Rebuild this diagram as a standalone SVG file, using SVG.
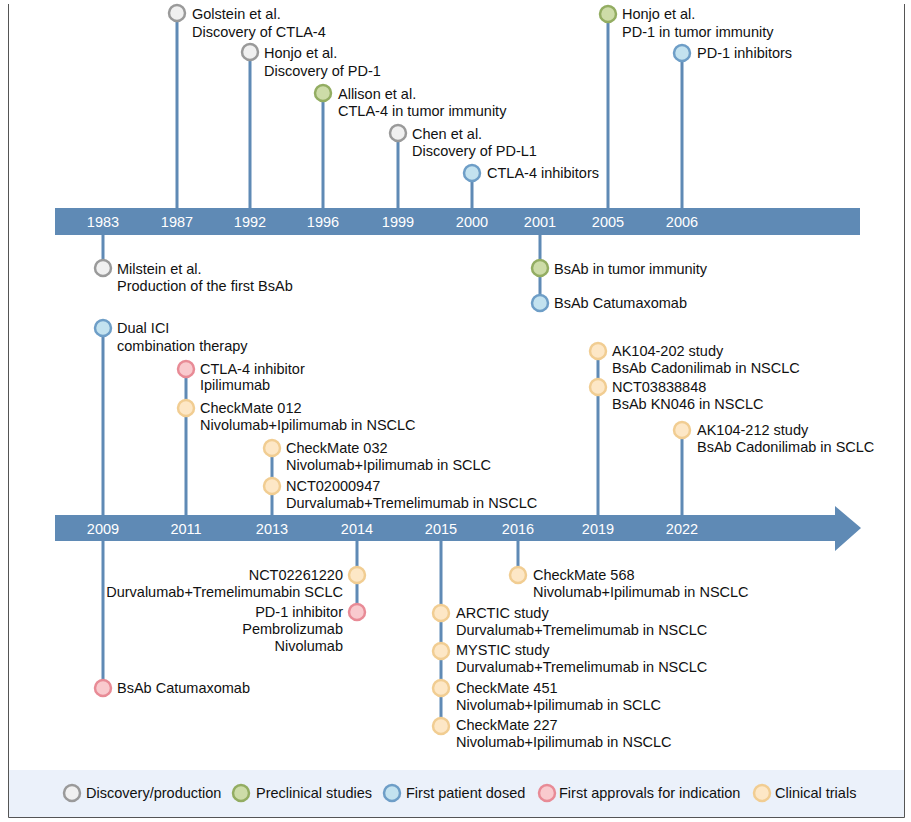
<svg xmlns="http://www.w3.org/2000/svg" width="911" height="822" viewBox="0 0 911 822">
<style>
text{font-family:"Liberation Sans",Arial,sans-serif;font-size:14.5px;fill:#111}
.yr{fill:#fff;text-anchor:middle}
.r{text-anchor:end}
.ln{stroke:#5f8ab5;stroke-width:3;fill:none}
circle{stroke-width:2.5}
.g{fill:#f0f0f0;stroke:#9a9a9a}
.gr{fill:#cddca8;stroke:#93ad62}
.b{fill:#c3e2ef;stroke:#6e9ec7}
.rd{fill:#f9cace;stroke:#e88b96}
.o{fill:#fde7c6;stroke:#f1cd92}
</style>
<rect x="0" y="0" width="911" height="822" fill="#fff"/>
<rect x="8" y="770" width="896" height="47" fill="#ebf1fa"/>
<path d="M8.5 4V817.5H904.5V4" fill="none" stroke="#555" stroke-width="1"/>
<g id="connectors">
<path class="ln" d="M177 13V208M250 52V208M323 93V208M398 133V208M472 173V208M608 14V208M682 53V208M103 235V268M540 235V303"/>
<path class="ln" d="M103 328V688M186 369V515M272 448V515M598 351V515M682 430V515M357 540V612M441 540V726M518 540V575"/>
</g>
<g id="timeline1"><rect x="55" y="208" width="805" height="27" fill="#5f8ab5"/>
<text class="yr" x="103" y="227">1983</text><text class="yr" x="177" y="227">1987</text><text class="yr" x="250" y="227">1992</text><text class="yr" x="323" y="227">1996</text><text class="yr" x="398" y="227">1999</text><text class="yr" x="472" y="227">2000</text><text class="yr" x="540" y="227">2001</text><text class="yr" x="608" y="227">2005</text><text class="yr" x="682" y="227">2006</text></g>
<g id="timeline2"><path d="M55 515H835V506L861 528L835 551V541H55Z" fill="#5f8ab5"/>
<text class="yr" x="103" y="534">2009</text><text class="yr" x="186" y="534">2011</text><text class="yr" x="272" y="534">2013</text><text class="yr" x="357" y="534">2014</text><text class="yr" x="441" y="534">2015</text><text class="yr" x="518" y="534">2016</text><text class="yr" x="598" y="534">2019</text><text class="yr" x="682" y="534">2022</text></g>
<g id="n1987"><circle class="g" cx="177" cy="13" r="8"/><text x="192" y="19">Golstein et al.</text><text x="192" y="37">Discovery of CTLA-4</text></g>
<g id="n1992"><circle class="g" cx="250" cy="52" r="8"/><text x="264" y="58">Honjo et al.</text><text x="264" y="76">Discovery of PD-1</text></g>
<g id="n1996"><circle class="gr" cx="323" cy="93" r="8"/><text x="338" y="99">Allison et al.</text><text x="338" y="116">CTLA-4 in tumor immunity</text></g>
<g id="n1999"><circle class="g" cx="398" cy="133" r="8"/><text x="412" y="139">Chen et al.</text><text x="412" y="156">Discovery of PD-L1</text></g>
<g id="n2000"><circle class="b" cx="472" cy="173" r="8"/><text x="487" y="178">CTLA-4 inhibitors</text></g>
<g id="n2005"><circle class="gr" cx="608" cy="14" r="8"/><text x="622" y="19">Honjo et al.</text><text x="622" y="37">PD-1 in tumor immunity</text></g>
<g id="n2006"><circle class="b" cx="682" cy="53" r="8"/><text x="697" y="58">PD-1 inhibitors</text></g>
<g id="n1983"><circle class="g" cx="103" cy="268" r="8"/><text x="117" y="274">Milstein et al.</text><text x="117" y="291">Production of the first BsAb</text></g>
<g id="n2001a"><circle class="gr" cx="540" cy="268" r="8"/><text x="554" y="274">BsAb in tumor immunity</text></g>
<g id="n2001b"><circle class="b" cx="540" cy="303" r="8"/><text x="554" y="308">BsAb Catumaxomab</text></g>
<g id="n2009a"><circle class="b" cx="103" cy="328" r="8"/><text x="117" y="333">Dual ICI</text><text x="117" y="351">combination therapy</text></g>
<g id="n2009b"><circle class="rd" cx="103" cy="688" r="8"/><text x="117" y="693">BsAb Catumaxomab</text></g>
<g id="n2011a"><circle class="rd" cx="186" cy="369" r="8"/><text x="200" y="374">CTLA-4 inhibitor</text><text x="200" y="390">Ipilimumab</text></g>
<g id="n2011b"><circle class="o" cx="186" cy="408" r="8"/><text x="200" y="413">CheckMate 012</text><text x="200" y="430">Nivolumab+Ipilimumab in NSCLC</text></g>
<g id="n2013a"><circle class="o" cx="272" cy="448" r="8"/><text x="286" y="453">CheckMate 032</text><text x="286" y="470">Nivolumab+Ipilimumab in SCLC</text></g>
<g id="n2013b"><circle class="o" cx="272" cy="486" r="8"/><text x="286" y="491">NCT02000947</text><text x="286" y="508">Durvalumab+Tremelimumab in NSCLC</text></g>
<g id="n2019a"><circle class="o" cx="598" cy="351" r="8"/><text x="612" y="356">AK104-202 study</text><text x="612" y="373">BsAb Cadonilimab in NSCLC</text></g>
<g id="n2019b"><circle class="o" cx="598" cy="387" r="8"/><text x="612" y="392">NCT03838848</text><text x="612" y="409">BsAb KN046 in NSCLC</text></g>
<g id="n2022"><circle class="o" cx="682" cy="430" r="8"/><text x="697" y="435">AK104-212 study</text><text x="697" y="452">BsAb Cadonilimab in SCLC</text></g>
<g id="n2014a"><circle class="o" cx="357" cy="575" r="8"/><text class="r" x="343" y="580">NCT02261220</text><text class="r" x="343" y="597">Durvalumab+Tremelimumabin SCLC</text></g>
<g id="n2014b"><circle class="rd" cx="357" cy="612" r="8"/><text class="r" x="343" y="617">PD-1 inhibitor</text><text class="r" x="343" y="634">Pembrolizumab</text><text class="r" x="343" y="651">Nivolumab</text></g>
<g id="n2016"><circle class="o" cx="518" cy="575" r="8"/><text x="533" y="580">CheckMate 568</text><text x="533" y="597">Nivolumab+Ipilimumab in NSCLC</text></g>
<g id="n2015a"><circle class="o" cx="441" cy="613" r="8"/><text x="456" y="618">ARCTIC study</text><text x="456" y="635">Durvalumab+Tremelimumab in NSCLC</text></g>
<g id="n2015b"><circle class="o" cx="441" cy="651" r="8"/><text x="456" y="655">MYSTIC study</text><text x="456" y="672">Durvalumab+Tremelimumab in NSCLC</text></g>
<g id="n2015c"><circle class="o" cx="441" cy="688" r="8"/><text x="456" y="693">CheckMate 451</text><text x="456" y="710">Nivolumab+Ipilimumab in SCLC</text></g>
<g id="n2015d"><circle class="o" cx="441" cy="726" r="8"/><text x="456" y="730">CheckMate 227</text><text x="456" y="747">Nivolumab+Ipilimumab in NSCLC</text></g>
<g id="legend">
<circle class="g" cx="72" cy="793" r="8"/><text x="86" y="798">Discovery/production</text>
<circle class="gr" cx="241" cy="793" r="8"/><text x="256" y="798">Preclinical studies</text>
<circle class="b" cx="392" cy="793" r="8"/><text x="406" y="798">First patient dosed</text>
<circle class="rd" cx="547" cy="793" r="8"/><text x="559" y="798">First approvals for indication</text>
<circle class="o" cx="762" cy="793" r="8"/><text x="775" y="798">Clinical trials</text>
</g>
</svg>
